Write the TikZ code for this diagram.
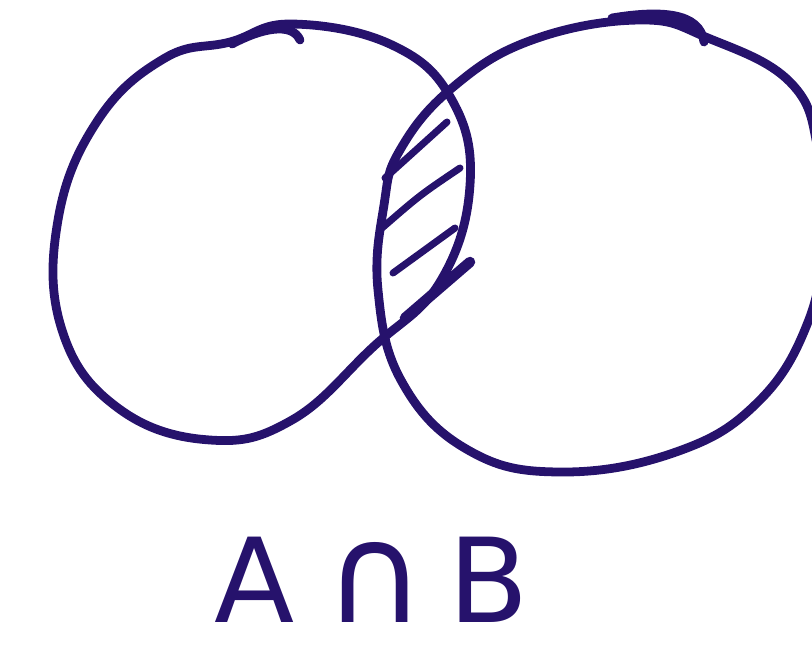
\documentclass[tikz,border=0pt]{standalone}
\usepackage{fontspec}
\setmainfont{DejaVu Sans}
\usepackage{tikz}
\usetikzlibrary{positioning}
\definecolor{ink}{RGB}{38,18,108}

\begin{document}
\begin{tikzpicture}[x=0.03cm, y=-0.03cm]
  \tikzset{pen/.style={draw=ink, line width=7.5pt, line cap=round, line join=round}}
  \tikzset{hatch/.style={pen, line width=6pt}}

  % canvas
  \useasboundingbox (0,0) rectangle (812,659);

  \begin{scope}
  \clip (0,0) rectangle (812,659);
  % set A
  \draw[pen] plot[smooth cycle, tension=0.7] coordinates {
    (230,42) (165,58) (98,120) (58,220) (62,330) (118,408) (210,440)
    (292,420) (372,348) (440,282) (470,185) (452,100) (392,45) (292,24)};
  % little hook at the top of A
  \draw[pen] (232,44) .. controls (262,28) and (292,22) .. (300,40);

  % set B
  \draw[pen] plot[smooth cycle, tension=0.7] coordinates {
    (400,150) (452,88) (532,40) (640,20) (708,38) (790,82) (818,150)
    (822,240) (808,322) (758,402) (676,452) (560,472) (468,450)
    (402,382) (378,290) (384,205)};
  \draw[pen] (612,18) .. controls (660,10) and (700,12) .. (704,42);
  \end{scope}

  % hatching of the intersection
  \draw[hatch] (385,178) -- (447,122);
  \draw[hatch] (382,228) .. controls (420,195) .. (460,168);
  \draw[hatch] (393,273) -- (455,228);
  \draw[hatch, line width=9pt] (405,318) -- (470,262);

  % label
  \node[text=ink, anchor=base, inner sep=0pt,
        font=\fontsize{100}{100}\selectfont] (lbl) at (372,622)
    {A\hspace{0.25em}{\fontsize{118}{118}\selectfont ∩}\hspace{0.2em}B};
\end{tikzpicture}
\end{document}
